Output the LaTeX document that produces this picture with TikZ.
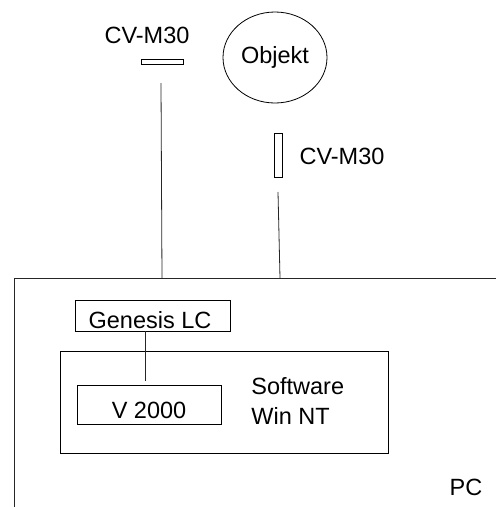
\documentclass[tikz,border=0pt]{standalone}
\usepackage{fontspec}
\setmainfont{Liberation Sans}
\usetikzlibrary{positioning, shapes.geometric}
\tikzset{
    box/.style={draw, rectangle, inner sep=0pt},
    testo/.style={font=\fontsize{23.5}{28}\selectfont, inner sep=0pt, anchor=base},
    linea/.style={line width=0.8pt, black!85}
}
\begin{document}
\begin{tikzpicture}[x=1pt, y=-1pt, line width=0.8pt]
        \useasboundingbox (0,0) rectangle (496,507);
        %disegno telecamera sopra
        \node[box, minimum width=42pt, minimum height=5pt] (cam1) at (162,61.5) {};
        \node[testo] (lab1) at (147,43) {CV-M30};
        %disegno oggetto
        \node[draw, ellipse, minimum width=104pt, minimum height=91pt, inner sep=0pt,
              font=\fontsize{23.5}{28}\selectfont] (obj) at (275,57.5) {Objekt};
        %disegno telecamera laterale
        \node[box, minimum width=8pt, minimum height=44pt] (cam2) at (278,155) {};
        \node[testo] (lab2) at (342,164) {CV-M30};
        %disegno PC
        \coordinate (pcBL) at (14,507);
        \coordinate (pcTL) at (14,278);
        \coordinate (pcTR) at (496,278);
        \draw[linea] (pcBL) -- (pcTL) -- (pcTR);
        \node[testo] (pc) at (466,495) {PC};
        %cavi telecamere
        \coordinate (c1a) at (161,83);
        \coordinate (c1b) at (162,278);
        \coordinate (c2a) at (278,192);
        \coordinate (c2b) at (280,278);
        \draw[linea] (c1a) -- (c1b);
        \draw[linea] (c2a) -- (c2b);
        %scheda e software
        \node[box, minimum width=155pt, minimum height=31pt] (gen) at (152.5,315.5) {};
        \node[testo] (genlab) at (150,328) {Genesis LC};
        \node[box, minimum width=328pt, minimum height=102pt] (sw) at (224,402) {};
        \node[box, minimum width=144pt, minimum height=39pt] (v2k) at (149,404.5) {};
        \node[testo] (v2klab) at (149,418) {V 2000};
        \node[testo, anchor=base west] (swlab) at (251,394) {Software};
        \node[testo, anchor=base west] (ntlab) at (251,424) {Win NT};
        %collegamento
        \coordinate (genv) at (145,381);
        \draw[linea] (gen.south -| genv) -- (genv);
\end{tikzpicture}
\end{document}
